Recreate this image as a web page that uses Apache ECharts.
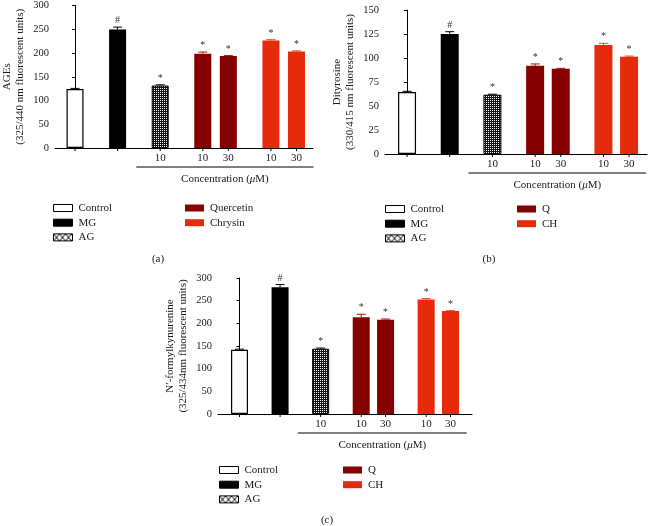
<!DOCTYPE html>
<html>
<head>
<meta charset="utf-8">
<script src="https://cdn.jsdelivr.net/npm/echarts@6/dist/echarts.min.js"></script>
<style>
  html, body { margin: 0; padding: 0; background: #fff; }
  #chart { width: 651px; height: 526px; }
</style>
</head>
<body>
<div id="chart"></div>
<script>
// ---- data ----
const barGroup = ['Control', 'MG', 'AG', 'Q', 'Q', 'CH', 'CH'];
const doses    = ['', '', '10', '10', '30', '10', '30'];
const marks    = ['', '#', '*', '*', '*', '*', '*'];

const agesMean = [124, 249.5, 131.5, 198.5, 193.5, 226.5, 203];
const agesErr  = [1.5, 5, 1.5, 3.5, 1, 1.5, 1.5];

const dityMean = [64.5, 125, 61.8, 91.8, 88.7, 113.5, 101.4];
const dityErr  = [0.8, 2.4, 0.5, 2, 0.5, 1.8, 0.6];

const nfkMean  = [141.5, 279.5, 144, 213.5, 208, 252.5, 227];
const nfkErr   = [1.5, 6, 1.5, 6.5, 1.5, 2, 1];

// ---- layout ----
// bar centres along the x axis, in slot units (groups are spaced wider than pairs)
const slots = [0, 5, 10, 15, 18, 23, 26];
const bracketSpan = [7.2, 28];

const FONT = 'Liberation Serif';
const INK = '#1a1a1a';

function makePattern(w, h, draw) {
  const c = document.createElement('canvas');
  c.width = w; c.height = h;
  const ctx = c.getContext('2d');
  draw(ctx);
  return { image: c, repeat: 'repeat' };
}
// dark stipple for the AG bars (white dots on black)
const agFill = makePattern(2, 2, ctx => {
  ctx.fillStyle = '#111'; ctx.fillRect(0, 0, 2, 2);
  ctx.fillStyle = '#fff'; ctx.fillRect(0, 0, 1, 1);
});
// cross-hatch used by the AG legend key
const agKey = makePattern(6, 7, ctx => {
  ctx.fillStyle = '#fff'; ctx.fillRect(0, 0, 6, 7);
  ctx.strokeStyle = '#000'; ctx.lineWidth = 1;
  ctx.beginPath();
  ctx.moveTo(0, 0); ctx.lineTo(6, 7);
  ctx.moveTo(6, 0); ctx.lineTo(0, 7);
  ctx.stroke();
});

const groupStyle = {
  Control: { color: '#ffffff', borderColor: '#000', borderWidth: 1.2, err: '#000' },
  MG:      { color: '#000000', borderColor: '#000', borderWidth: 0, err: '#000' },
  AG:      { color: agFill,    borderColor: '#000', borderWidth: 1, err: '#000' },
  Q:       { color: '#850000', borderColor: '#850000', borderWidth: 0, err: '#c00000' },
  CH:      { color: '#e52b0c', borderColor: '#e52b0c', borderWidth: 0, err: '#f04020' }
};

const panels = [
  {
    mean: agesMean, err: agesErr, yMax: 300, yStep: 50,
    yName: 'AGEs\n(325/440 nm fluorescent units)',
    names: { Q: 'Quercetin', CH: 'Chrysin' },
    grid: { left: 55, top: 5, width: 258, height: 143 },
    xRange: [-2.35, 27.94], barWidth: 17,
    legendTop: 201.5, legendLeft: [53, 185],
    tag: '(a)', tagPos: [158, 259]
  },
  {
    mean: dityMean, err: dityErr, yMax: 150, yStep: 25,
    yName: 'Dityrosine\n(330/415 nm fluorescent units)',
    names: { Q: 'Q', CH: 'CH' },
    grid: { left: 385, top: 10, width: 262, height: 144 },
    xRange: [-2.58, 28.1], barWidth: 18,
    legendTop: 202.5, legendLeft: [385, 517],
    tag: '(b)', tagPos: [489, 259]
  },
  {
    mean: nfkMean, err: nfkErr, yMax: 300, yStep: 50,
    yName: 'N\u2032-formylkynurenine\n(325/434nm fluorescent units)',
    names: { Q: 'Q', CH: 'CH' },
    grid: { left: 218, top: 278, width: 254, height: 136 },
    xRange: [-2.65, 28.65], barWidth: 17,
    legendTop: 463.5, legendLeft: [219, 343],
    tag: '(c)', tagPos: [327, 520]
  }
];

const grids = [], xAxes = [], yAxes = [], series = [], legends = [], graphics = [];

panels.forEach((p, pi) => {
  const seriesName = g => p.names[g] || g;

  grids.push(Object.assign({ containLabel: false }, p.grid));

  xAxes.push({
    gridIndex: pi, type: 'value', min: p.xRange[0], max: p.xRange[1],
    axisLine: { lineStyle: { color: '#000', width: 1 } },
    axisTick: { show: false }, axisLabel: { show: false }, splitLine: { show: false }
  });

  yAxes.push({
    gridIndex: pi, type: 'value', min: 0, max: p.yMax, interval: p.yStep,
    name: p.yName, nameLocation: 'middle', nameRotate: 90, nameGap: 28,
    nameTextStyle: { fontFamily: FONT, fontSize: 11, color: INK, lineHeight: 13 },
    axisLine: { show: true, lineStyle: { color: '#000', width: 1 } },
    axisTick: { show: true, length: 3, lineStyle: { color: '#000' } },
    axisLabel: { fontFamily: FONT, fontSize: 10.5, color: INK, margin: 6 },
    splitLine: { show: false }
  });

  // one bar series per treatment group
  ['Control', 'MG', 'AG', 'Q', 'CH'].forEach(g => {
    const st = groupStyle[g];
    const data = [];
    barGroup.forEach((bg, i) => {
      if (bg === g) data.push([slots[i], p.mean[i], doses[i]]);
    });
    series.push({
      type: 'bar', name: seriesName(g), xAxisIndex: pi, yAxisIndex: pi,
      data: data, encode: { x: 0, y: 1 },
      barWidth: p.barWidth, barGap: '-100%',
      itemStyle: { color: st.color, borderColor: st.borderColor, borderWidth: st.borderWidth },
      label: {
        show: true, position: 'bottom', distance: 5,
        formatter: prm => prm.value[2],
        fontFamily: FONT, fontSize: 11, color: INK
      },
      emphasis: { disabled: true },
      silent: true
    });
  });

  // error bars, axis ticks under bars, significance marks
  series.push({
    type: 'custom', xAxisIndex: pi, yAxisIndex: pi, silent: true, z: 5, clip: false,
    data: slots.map((s, i) => [s, p.mean[i], p.err[i]]),
    encode: { x: 0, y: 1 },
    renderItem: (params, api) => {
      const i = params.dataIndex;
      const x = api.value(0), m = api.value(1), e = api.value(2);
      const base = api.coord([x, 0]);
      const bar = api.coord([x, m]);
      const top = api.coord([x, m + e]);
      const col = groupStyle[barGroup[i]].err;
      return {
        type: 'group',
        children: [
          { type: 'line', shape: { x1: base[0], y1: base[1], x2: base[0], y2: base[1] + 3 },
            style: { stroke: '#000', lineWidth: 1 } },
          { type: 'line', shape: { x1: bar[0], y1: bar[1], x2: top[0], y2: top[1] },
            style: { stroke: col, lineWidth: 1 } },
          { type: 'line', shape: { x1: top[0] - 4.5, y1: top[1], x2: top[0] + 4.5, y2: top[1] },
            style: { stroke: col, lineWidth: 1 } },
          { type: 'text', x: top[0], y: top[1] - 1.5,
            style: { text: marks[i], align: 'center', verticalAlign: 'bottom',
                     fontFamily: FONT, fontSize: 10, fill: '#333' } }
        ]
      };
    }
  });

  // concentration bracket under the dosed groups
  series.push({
    type: 'custom', xAxisIndex: pi, yAxisIndex: pi, silent: true, clip: false,
    data: [bracketSpan],
    encode: { x: [0, 1] },
    renderItem: (params, api) => {
      const a = api.coord([api.value(0), 0]);
      const b = api.coord([api.value(1), 0]);
      const y = a[1] + 19;
      return {
        type: 'group',
        children: [
          { type: 'line', shape: { x1: a[0], y1: y, x2: b[0], y2: y },
            style: { stroke: '#000', lineWidth: 1 } },
          { type: 'text', x: (a[0] + b[0]) / 2, y: y + 12.5,
            style: { text: 'Concentration ({i|\u03bc}M)', align: 'center', verticalAlign: 'middle',
                     fontFamily: FONT, fontSize: 11, fill: INK,
                     rich: { i: { fontFamily: FONT, fontSize: 11, fontStyle: 'italic', fill: INK } } } }
        ]
      };
    }
  });

  const key = g => ({
    name: seriesName(g),
    itemStyle: {
      color: g === 'AG' ? agKey : groupStyle[g].color,
      borderColor: g === 'Q' || g === 'CH' ? groupStyle[g].color : '#000',
      borderWidth: g === 'Q' || g === 'CH' ? 0 : 1
    }
  });
  const legendBase = {
    orient: 'vertical', top: p.legendTop, icon: 'rect', padding: 0,
    itemWidth: 19, itemHeight: 7, itemGap: 1.7, selectedMode: false,
    textStyle: { fontFamily: FONT, fontSize: 11, color: INK, lineHeight: 13, padding: [0, 0, 0, 1] }
  };
  legends.push(Object.assign({}, legendBase, { left: p.legendLeft[0], data: ['Control', 'MG', 'AG'].map(key) }));
  legends.push(Object.assign({}, legendBase, { left: p.legendLeft[1], data: ['Q', 'CH'].map(key) }));

  graphics.push({
    type: 'text', x: p.tagPos[0], y: p.tagPos[1], silent: true,
    style: { text: p.tag, align: 'center', verticalAlign: 'middle', fontFamily: FONT, fontSize: 11, fill: INK }
  });
});

const chart = echarts.init(document.getElementById('chart'), null, { renderer: 'canvas' });
chart.setOption({
  backgroundColor: '#ffffff',
  animation: false,
  grid: grids,
  xAxis: xAxes,
  yAxis: yAxes,
  legend: legends,
  graphic: graphics,
  series: series
});
</script>
</body>
</html>
